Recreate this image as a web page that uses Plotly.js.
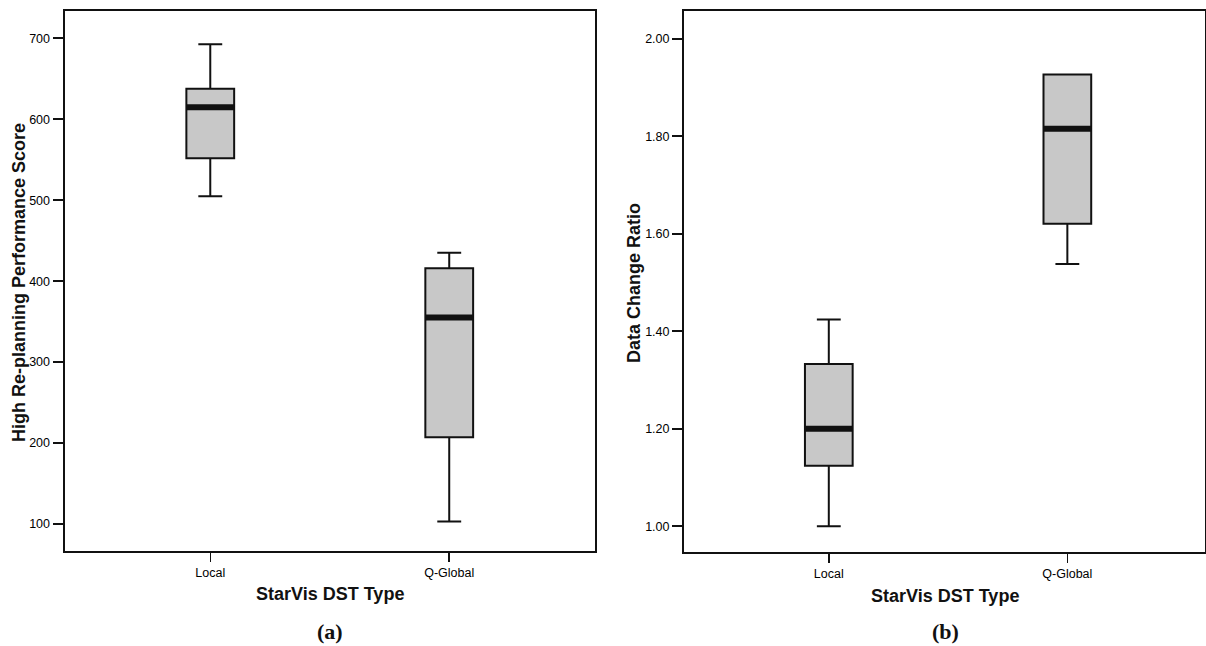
<!DOCTYPE html>
<html><head><meta charset="utf-8">
<script src="https://cdn.plot.ly/plotly-3.0.1.min.js"></script>
<style>html,body{margin:0;padding:0;background:#fff}#chart{width:1206px;height:646px}</style>
</head><body><div id="chart"></div>
<script>
const categories = ['Local', 'Q-Global'];
// panel (a): High Re-planning Performance Score
const scoreLowerWhisker = [505, 103];
const scoreQ1 = [552, 207];
const scoreMedian = [615, 355];
const scoreQ3 = [638, 416];
const scoreUpperWhisker = [693, 435];
// panel (b): Data Change Ratio
const ratioLowerWhisker = [1.000, 1.538];
const ratioQ1 = [1.124, 1.621];
const ratioMedian = [1.200, 1.816];
const ratioQ3 = [1.333, 1.927];
const ratioUpperWhisker = [1.424, 1.927];
// ticks
const scoreTicks = [100, 200, 300, 400, 500, 600, 700];
const ratioTicks = [1.0, 1.2, 1.4, 1.6, 1.8, 2.0];
const ratioTickText = ['1.00', '1.20', '1.40', '1.60', '1.80', '2.00'];
const xTitle = 'StarVis DST Type';
const yTitleA = 'High Re-planning Performance Score';
const yTitleB = 'Data Change Ratio';

const W = 1206, H = 646;
const ink = '#111111';
const boxFill = '#c8c8c8';

function boxTrace(q1, med, q3, lo, hi, xa, ya) {
  return {
    type: 'box', x: categories, q1: q1, median: med, q3: q3,
    lowerfence: lo, upperfence: hi, xaxis: xa, yaxis: ya,
    fillcolor: boxFill, line: {color: ink, width: 2},
    width: 0.2, whiskerwidth: 0.5, boxpoints: false, hoverinfo: 'skip'
  };
}
function medianTrace(med, xa, ya) {
  return {
    type: 'box', x: categories, q1: med, median: med, q3: med,
    lowerfence: med, upperfence: med, xaxis: xa, yaxis: ya,
    fillcolor: ink, line: {color: ink, width: 6},
    width: 0.2, whiskerwidth: 0, boxpoints: false, hoverinfo: 'skip'
  };
}

const data = [
  boxTrace(scoreQ1, scoreMedian, scoreQ3, scoreLowerWhisker, scoreUpperWhisker, 'x', 'y'),
  medianTrace(scoreMedian, 'x', 'y'),
  boxTrace(ratioQ1, ratioMedian, ratioQ3, ratioLowerWhisker, ratioUpperWhisker, 'x2', 'y2'),
  medianTrace(ratioMedian, 'x2', 'y2')
];

const tickFont = {family: 'Liberation Sans, Arial, sans-serif', size: 12.5, color: '#000000'};
const commonAxis = {
  showline: true, mirror: true, linecolor: ink, linewidth: 2,
  ticks: 'outside', tickcolor: ink, tickwidth: 2,
  showgrid: false, zeroline: false, fixedrange: true, tickfont: tickFont
};

const titleFont = {family: 'Liberation Sans, Arial, sans-serif', size: 18, color: ink};
const capFont = {family: 'Liberation Serif, Times New Roman, serif', size: 22, color: ink};

function ann(text, xpx, ypx, font, angle) {
  return {text: text, xref: 'paper', yref: 'paper', x: xpx / W, y: 1 - ypx / H,
    xanchor: 'center', yanchor: 'middle', showarrow: false, font: font,
    textangle: angle || 0};
}

const layout = {
  width: W, height: H, margin: {l: 0, r: 0, t: 0, b: 0},
  paper_bgcolor: '#ffffff', plot_bgcolor: '#ffffff', showlegend: false,
  xaxis: Object.assign({}, commonAxis, {
    domain: [64.5 / W, 595 / W], anchor: 'y', type: 'category',
    categoryarray: categories, range: [-0.61, 1.61], ticklen: 9, tickwidth: 1.5
  }),
  yaxis: Object.assign({}, commonAxis, {
    domain: [1 - 551 / H, 1 - 10.5 / H], anchor: 'x',
    range: [66.4, 734.6], tickmode: 'array', tickvals: scoreTicks, ticklen: 10
  }),
  xaxis2: Object.assign({}, commonAxis, {
    domain: [684 / W, 1205 / W], anchor: 'y2', type: 'category',
    categoryarray: categories, range: [-0.607, 1.577], ticklen: 9, tickwidth: 1.5
  }),
  yaxis2: Object.assign({}, commonAxis, {
    domain: [1 - 552 / H, 1 - 11 / H], anchor: 'x2',
    range: [0.947, 2.0575], tickmode: 'array', tickvals: ratioTicks,
    ticktext: ratioTickText, ticklen: 10
  }),
  annotations: [
    ann('<b>' + yTitleA + '</b>', 19, 283, titleFont, -90),
    ann('<b>' + xTitle + '</b>', 330, 594, titleFont),
    ann('<b>(a)</b>', 330, 631, capFont),
    ann('<b>' + yTitleB + '</b>', 634, 283, titleFont, -90),
    ann('<b>' + xTitle + '</b>', 945, 596, titleFont),
    ann('<b>(b)</b>', 945, 631, capFont)
  ]
};

Plotly.newPlot('chart', data, layout, {staticPlot: true, displayModeBar: false});
</script>
</body></html>
